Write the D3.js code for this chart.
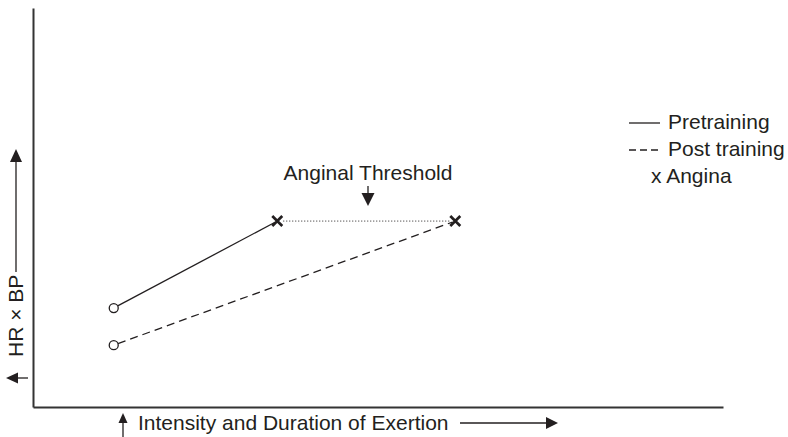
<!DOCTYPE html>
<html>
<head>
<meta charset="utf-8">
<script src="https://cdn.jsdelivr.net/npm/d3@7"></script>
<style>
  html, body { margin: 0; padding: 0; background: #fff; }
  svg { display: block; font-family: "Liberation Sans", Arial, Helvetica, sans-serif; }
  text { fill: #231f20; }
</style>
</head>
<body>
<svg id="chart" width="788" height="437"></svg>
<script>
// Schematic: rate-pressure product vs. exertion, before and after training
const seriesNames = ["Pretraining", "Post training"];
const startX = [11.7, 11.7];        // exertion at rest point
const startY = [24.8, 15.5];        // HR x BP at rest point
const anginaX = [35.4, 61.2];       // exertion where angina appears
const anginalThreshold = 46.6;      // HR x BP at onset of angina (same for both)
const axisLabels = ["Intensity and Duration of Exertion", "HR \u00d7 BP"];
const legendLabels = ["Pretraining", "Post training", "x Angina"];

const svg = d3.select("#chart");
const ink = "#231f20";
const fs = 21;

const x = d3.scaleLinear().domain([0, 100]).range([33, 723]);
const y = d3.scaleLinear().domain([0, 100]).range([407, 8]);

// Straight arrow with a filled triangular head at (x2, y2)
function arrow(x1, y1, x2, y2, len = 13, half = 6) {
  const a = Math.atan2(y2 - y1, x2 - x1);
  const bx = x2 - len * Math.cos(a), by = y2 - len * Math.sin(a);
  svg.append("line").attr("x1", x1).attr("y1", y1).attr("x2", bx).attr("y2", by)
    .attr("stroke", ink).attr("stroke-width", 1.3);
  const px = -Math.sin(a) * half, py = Math.cos(a) * half;
  svg.append("path")
    .attr("d", `M${x2},${y2}L${bx + px},${by + py}L${bx - px},${by - py}Z`)
    .attr("fill", ink);
}

// Axes without ticks
const xAxis = d3.axisBottom(x).ticks(0).tickSizeOuter(0);
const yAxis = d3.axisLeft(y).ticks(0).tickSizeOuter(0);
svg.append("g").attr("transform", `translate(0,${y(0)})`).call(xAxis)
  .select(".domain").attr("stroke", "#333").attr("stroke-width", 2);
svg.append("g").attr("transform", `translate(${x(0)},0)`).call(yAxis)
  .select(".domain").attr("stroke", "#333").attr("stroke-width", 2);

// Series lines
const dashes = [null, "8,5"];
seriesNames.forEach((name, i) => {
  const x0 = x(startX[i]), y0 = y(startY[i]);
  const x1 = x(anginaX[i]), y1 = y(anginalThreshold);
  const ang = Math.atan2(y1 - y0, x1 - x0);
  const r = 4.5;
  svg.append("line")
    .attr("x1", x0 + r * Math.cos(ang)).attr("y1", y0 + r * Math.sin(ang))
    .attr("x2", x1 - 3 * Math.cos(ang)).attr("y2", y1 - 3 * Math.sin(ang))
    .attr("stroke", ink).attr("stroke-width", 1.3)
    .attr("stroke-dasharray", dashes[i]);
  svg.append("circle")
    .attr("cx", x0).attr("cy", y0).attr("r", r)
    .attr("fill", "#fff").attr("stroke", ink).attr("stroke-width", 1.3);
});

// Dotted threshold line between the angina points
svg.append("line")
  .attr("x1", x(anginaX[0]) + 6).attr("x2", x(anginaX[1]) - 6)
  .attr("y1", y(anginalThreshold)).attr("y2", y(anginalThreshold))
  .attr("stroke", ink).attr("stroke-width", 1).attr("stroke-dasharray", "1,2");

// Angina markers
anginaX.forEach(ax => {
  const cx = x(ax), cy = y(anginalThreshold), s = 5;
  svg.append("path")
    .attr("d", `M${cx - s},${cy - s}L${cx + s},${cy + s}M${cx - s},${cy + s}L${cx + s},${cy - s}`)
    .attr("stroke", ink).attr("stroke-width", 2.7);
});

// Threshold annotation
const annX = 368;
svg.append("text").attr("x", annX).attr("y", 180).attr("text-anchor", "middle")
  .attr("font-size", fs).text("Anginal Threshold");
arrow(annX, 186, annX, 206, 13, 6.5);

// X axis label with arrows
arrow(123, 437, 123, 413, 10, 4.5);
svg.append("text").attr("x", 138).attr("y", 430).attr("font-size", fs).text(axisLabels[0]);
arrow(460, 423, 558, 423, 12, 6);

// Y axis label with arrows
svg.append("text").attr("transform", "translate(23,357) rotate(-90)")
  .attr("font-size", fs).text(axisLabels[1]);
arrow(16, 272, 16, 149, 13, 6);
arrow(28, 378, 6, 378, 12, 5.5);

// Legend
const legend = svg.append("g");
[0, 1].forEach(i => {
  const ly = 123 + i * 27;
  legend.append("line").attr("x1", 629).attr("x2", 660).attr("y1", ly).attr("y2", ly)
    .attr("stroke", ink).attr("stroke-width", 1.3)
    .attr("stroke-dasharray", i === 1 ? "7,4" : null);
  legend.append("text").attr("x", 668).attr("y", ly + 6).attr("font-size", fs).text(legendLabels[i]);
});
legend.append("text").attr("x", 651).attr("y", 183).attr("font-size", fs).text(legendLabels[2]);
</script>
</body>
</html>
